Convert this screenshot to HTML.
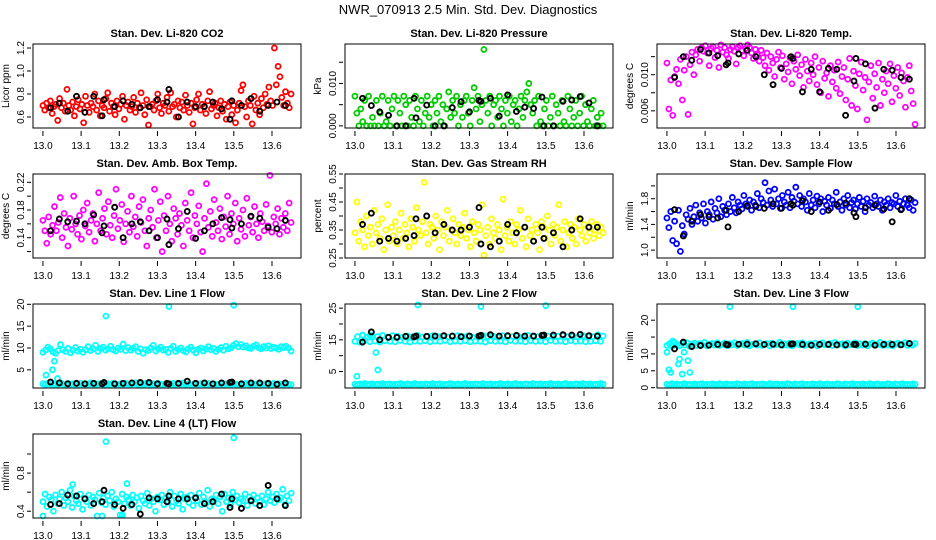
<!DOCTYPE html>
<html><head><meta charset="utf-8"><style>
html,body{margin:0;padding:0;background:#fff}
svg{display:block}
text{font-family:"Liberation Sans",sans-serif}
</style></head><body>
<svg id="chart" width="936" height="540" viewBox="0 0 936 540" xmlns="http://www.w3.org/2000/svg">
<rect width="936" height="540" fill="#fff"/>
<text x="468" y="14" text-anchor="middle" font-size="13">NWR_070913  2.5 Min. Std. Dev. Diagnostics</text>
</svg>
<script>
const xTicks=[13.0,13.1,13.2,13.3,13.4,13.5,13.6];
const xTickLabels=["13.0","13.1","13.2","13.3","13.4","13.5","13.6"];
const blackTimes=[13.020,13.043,13.065,13.088,13.110,13.133,13.155,13.160,13.188,13.210,13.233,13.255,13.278,13.300,13.325,13.330,13.355,13.378,13.400,13.423,13.445,13.468,13.490,13.495,13.520,13.545,13.568,13.590,13.613,13.635];

const co2Vals=[0.70,0.66,0.72,0.68,0.74,0.63,0.69,0.71,0.57,0.76,0.68,0.72,0.65,0.84,0.70,0.66,0.73,0.61,0.69,0.75,0.67,0.71,0.55,0.78,0.70,0.64,0.72,0.69,0.80,0.66,0.74,0.61,0.70,0.68,0.76,0.81,0.65,0.72,0.69,0.62,0.74,0.67,0.71,0.78,0.58,0.70,0.73,0.66,0.69,0.77,0.64,0.72,0.68,0.81,0.70,0.62,0.75,0.53,0.69,0.71,0.66,0.74,0.80,0.68,0.63,0.72,0.70,0.77,0.65,0.81,0.69,0.71,0.60,0.74,0.68,0.73,0.66,0.79,0.70,0.64,0.72,0.54,0.68,0.75,0.80,0.66,0.71,0.69,0.63,0.74,0.82,0.67,0.70,0.72,0.61,0.68,0.74,0.65,0.71,0.58,0.69,0.73,0.62,0.70,0.55,0.66,0.72,0.83,0.88,0.69,0.60,0.74,0.70,0.54,0.78,0.66,0.72,0.62,0.76,0.68,0.80,0.71,0.86,0.74,0.70,1.20,0.88,1.04,0.95,0.77,0.70,0.82,0.72,0.68,0.80];
const co2Black=[0.68,0.72,0.65,0.78,0.64,0.78,0.61,0.75,0.69,0.74,0.71,0.68,0.69,0.75,0.73,0.84,0.60,0.73,0.69,0.69,0.73,0.67,0.58,0.74,0.70,0.76,0.65,0.70,0.73,0.70];

const presVals=[0.007,0.003,0.000,0.004,0.001,0.006,0.000,0.007,0.000,0.002,0.000,0.006,0.000,0.003,0.007,0.000,0.001,0.006,0.000,0.004,0.007,0.000,0.006,0.003,0.000,0.007,0.005,0.000,0.006,0.002,0.000,0.007,0.004,0.001,0.006,0.000,0.003,0.007,0.002,0.005,0.000,0.006,0.003,0.007,0.001,0.005,0.000,0.004,0.008,0.002,0.006,0.003,0.007,0.000,0.005,0.002,0.006,0.007,0.003,0.000,0.006,0.009,0.004,0.007,0.001,0.005,0.018,0.006,0.003,0.007,0.000,0.005,0.006,0.002,0.007,0.004,0.000,0.006,0.003,0.007,0.001,0.005,0.006,0.000,0.004,0.007,0.002,0.006,0.008,0.010,0.005,0.003,0.006,0.000,0.007,0.001,0.000,0.004,0.006,0.000,0.002,0.007,0.000,0.005,0.003,0.000,0.006,0.001,0.000,0.007,0.004,0.000,0.002,0.006,0.000,0.003,0.007,0.000,0.005,0.001,0.000,0.004,0.006,0.000,0.002,0.000,0.003,0.000];
const presBlack=[0.0065,0.0048,0.0033,0.0025,0.0000,0.0000,0.0065,0.0019,0.0049,0.0000,0.0000,0.0043,0.0057,0.0033,0.0060,0.0058,0.0065,0.0023,0.0073,0.0034,0.0044,0.0041,0.0068,0.0000,0.0000,0.0058,0.0061,0.0069,0.0054,0.0000];

const tempVals=[0.0113,0.0062,0.0094,0.0055,0.0098,0.0106,0.0090,0.0117,0.0072,0.0105,0.0120,0.0056,0.0111,0.0125,0.0100,0.0122,0.0128,0.0115,0.0130,0.0126,0.0132,0.0124,0.0110,0.0129,0.0131,0.0119,0.0127,0.0108,0.0133,0.0125,0.0130,0.0122,0.0118,0.0128,0.0131,0.0126,0.0112,0.0130,0.0132,0.0127,0.0121,0.0129,0.0133,0.0130,0.0124,0.0118,0.0128,0.0122,0.0115,0.0127,0.0119,0.0110,0.0124,0.0105,0.0120,0.0113,0.0098,0.0117,0.0125,0.0108,0.0121,0.0095,0.0112,0.0103,0.0119,0.0090,0.0115,0.0106,0.0122,0.0099,0.0111,0.0086,0.0117,0.0104,0.0093,0.0113,0.0100,0.0120,0.0089,0.0108,0.0080,0.0115,0.0096,0.0102,0.0076,0.0110,0.0092,0.0105,0.0085,0.0114,0.0079,0.0098,0.0108,0.0072,0.0095,0.0118,0.0066,0.0104,0.0088,0.0062,0.0101,0.0114,0.0083,0.0097,0.0050,0.0092,0.0110,0.0074,0.0101,0.0086,0.0113,0.0066,0.0095,0.0080,0.0104,0.0090,0.0112,0.0070,0.0099,0.0085,0.0108,0.0077,0.0102,0.0093,0.0064,0.0097,0.0110,0.0082,0.0068,0.0045];
const tempBlack=[0.0097,0.0120,0.0116,0.0128,0.0124,0.0121,0.0111,0.0113,0.0123,0.0127,0.0120,0.0100,0.0089,0.0107,0.0120,0.0118,0.0081,0.0106,0.0081,0.0107,0.0106,0.0055,0.0093,0.0118,0.0112,0.0063,0.0106,0.0105,0.0097,0.0095];

const ambVals=[0.165,0.150,0.132,0.170,0.145,0.158,0.185,0.150,0.162,0.198,0.140,0.175,0.155,0.128,0.168,0.152,0.200,0.160,0.145,0.172,0.138,0.180,0.157,0.190,0.148,0.165,0.175,0.135,0.160,0.205,0.150,0.168,0.182,0.145,0.192,0.158,0.140,0.172,0.210,0.153,0.165,0.188,0.134,0.160,0.178,0.148,0.200,0.156,0.170,0.142,0.185,0.162,0.195,0.150,0.128,0.168,0.180,0.155,0.210,0.140,0.165,0.192,0.120,0.172,0.150,0.200,0.160,0.135,0.182,0.168,0.145,0.175,0.158,0.128,0.190,0.165,0.150,0.205,0.140,0.172,0.160,0.186,0.148,0.120,0.168,0.218,0.155,0.178,0.142,0.195,0.162,0.150,0.182,0.138,0.170,0.156,0.200,0.145,0.175,0.160,0.190,0.135,0.168,0.152,0.180,0.142,0.197,0.158,0.170,0.148,0.185,0.160,0.140,0.175,0.163,0.150,0.188,0.157,0.230,0.148,0.170,0.160,0.182,0.145,0.168,0.155,0.175,0.150,0.190,0.162];
const ambBlack=[0.150,0.167,0.163,0.164,0.160,0.173,0.147,0.157,0.184,0.140,0.160,0.163,0.150,0.140,0.167,0.130,0.153,0.178,0.139,0.150,0.160,0.169,0.166,0.154,0.160,0.171,0.168,0.155,0.153,0.165];

const rhVals=[0.34,0.45,0.31,0.38,0.35,0.29,0.40,0.33,0.36,0.30,0.42,0.34,0.37,0.32,0.39,0.28,0.35,0.44,0.31,0.36,0.33,0.38,0.30,0.35,0.41,0.32,0.37,0.34,0.29,0.39,0.36,0.31,0.43,0.35,0.33,0.38,0.52,0.34,0.30,0.37,0.36,0.32,0.40,0.35,0.28,0.38,0.33,0.36,0.42,0.31,0.35,0.39,0.34,0.30,0.37,0.33,0.36,0.41,0.32,0.35,0.29,0.38,0.34,0.31,0.37,0.35,0.44,0.26,0.33,0.36,0.30,0.39,0.34,0.32,0.37,0.35,0.28,0.46,0.33,0.36,0.31,0.38,0.34,0.30,0.37,0.35,0.42,0.32,0.36,0.29,0.39,0.33,0.35,0.31,0.37,0.34,0.28,0.38,0.36,0.32,0.40,0.35,0.30,0.37,0.33,0.36,0.44,0.31,0.35,0.38,0.29,0.34,0.37,0.32,0.36,0.30,0.39,0.35,0.33,0.37,0.31,0.36,0.34,0.38,0.32,0.35,0.37,0.33,0.36,0.34];
const rhBlack=[0.37,0.41,0.31,0.32,0.31,0.32,0.33,0.39,0.40,0.34,0.37,0.35,0.35,0.36,0.43,0.30,0.29,0.31,0.37,0.34,0.36,0.31,0.36,0.32,0.34,0.29,0.35,0.39,0.36,0.36];

const flowVals=[1.50,1.35,1.60,1.15,1.45,1.10,1.62,0.98,1.38,1.25,1.55,1.48,1.65,1.40,1.52,1.70,1.45,1.58,1.50,1.72,1.42,1.60,1.55,1.75,1.48,1.65,1.58,1.80,1.52,1.68,1.62,1.55,1.72,1.60,1.82,1.66,1.58,1.75,1.70,1.64,1.85,1.72,1.68,1.78,1.62,1.75,1.70,1.88,1.66,1.80,1.74,2.05,1.70,1.92,1.78,1.68,1.95,1.72,1.80,1.65,1.85,1.75,1.70,1.90,1.66,1.82,1.76,1.98,1.72,1.85,1.68,1.80,1.75,1.62,1.88,1.70,1.78,1.66,1.84,1.72,1.80,1.60,1.76,1.70,1.82,1.65,1.78,1.72,1.90,1.68,1.75,1.62,1.80,1.70,1.85,1.66,1.74,1.78,1.64,1.72,1.82,1.68,1.76,1.60,1.80,1.70,1.74,1.66,1.84,1.72,1.68,1.78,1.62,1.75,1.70,1.80,1.66,1.74,1.72,1.85,1.68,1.76,1.64,1.72,1.80,1.70,1.66,1.78,1.62,1.74];
const flowBlack=[1.63,1.22,1.45,1.55,1.52,1.50,1.62,1.36,1.60,1.69,1.68,1.65,1.72,1.65,1.72,1.70,1.77,1.60,1.75,1.62,1.71,1.73,1.58,1.52,1.66,1.70,1.64,1.44,1.63,1.80];

const l1High=[9.0,9.5,10.2,9.8,9.1,8.8,9.4,10.8,9.6,9.2,9.9,8.9,9.5,10.1,9.3,9.7,9.0,9.6,10.3,9.4,9.8,10.6,9.2,9.9,10.2,9.5,9.8,10.4,9.6,9.3,10.0,9.7,10.9,9.4,10.1,9.5,9.9,10.3,9.2,9.8,8.8,9.6,9.4,10.0,10.6,9.3,9.8,10.2,9.5,9.7,9.0,9.9,10.4,9.2,9.6,10.0,9.4,9.1,9.8,10.2,9.5,8.9,9.7,10.0,9.3,9.8,10.3,9.6,9.9,9.2,9.7,10.1,9.5,10.4,9.8,10.0,10.6,11.0,10.3,10.8,10.2,10.5,10.0,9.9,10.4,10.7,10.1,9.8,10.3,10.0,10.5,9.9,10.2,10.0,9.7,10.3,10.1,10.4,10.0,9.3];
const l1Low=[1.8,1.6,1.9,1.7,1.5,1.8,1.6,2.0,1.7,1.5,1.9,1.6,1.8,1.7,1.5,1.9,1.6,1.8,1.7,2.0,1.5,1.8,1.6,1.9,1.7,1.5,1.8,1.6,1.9,1.7,1.6,1.8,1.5,1.9,1.7,1.6,1.8,2.0,1.6,1.7,1.5,1.9,1.7,1.6,1.8,1.5,1.9,1.7,1.6,1.8,1.7,1.5,1.9,1.6,1.8,1.7,2.0,1.6,1.8,1.5,1.7,1.9,1.6,1.8,1.7,1.5,1.9,1.6,1.8,1.7,1.6,1.9,1.5,1.8,1.7,1.6,1.9,1.7,1.5,1.8,1.6,1.9,1.7,1.6,1.8,1.5,1.9,1.7,1.6,1.8,1.7,1.5,1.9,1.6,1.8,1.7,1.6,1.8,1.7,1.6];
const l1Black=[2.2,2.0,1.8,1.9,1.8,1.9,1.8,2.1,1.8,1.9,2.0,2.1,2.1,1.8,1.9,1.8,1.9,2.4,1.9,2.0,1.8,2.0,2.1,2.2,1.8,2.0,2.0,1.9,1.7,2.0];
const l1OutT=[13.008,13.025,13.030,13.038,13.165,13.330,13.500];
const l1OutY=[3.8,5.0,7.0,3.0,17.3,19.5,19.8];

const l2High=[14.5,16.0,14.2,16.5,14.8,15.8,14.4,16.2,14.6,16.0,14.3,16.4,14.7,15.9,14.5,16.3,14.4,16.1,14.8,15.8,14.5,16.2,14.3,16.0,14.6,16.4,14.5,15.9,14.7,16.1,14.4,16.3,14.6,16.0,14.5,16.2,14.8,15.9,14.4,16.1,14.6,16.3,14.5,16.0,14.7,16.2,14.4,15.8,14.6,16.1,14.5,16.4,14.3,16.0,14.7,16.2,14.5,15.9,14.6,16.3,14.4,16.1,14.8,16.0,14.5,16.2,14.6,15.9,14.4,16.4,14.7,16.1,14.5,16.0,14.6,16.3,14.4,16.2,14.8,15.9,14.5,16.1,14.6,16.4,14.4,16.0,14.7,16.2,14.5,15.9,14.6,16.3,14.4,16.1,14.5,16.0,14.7,16.6,14.5,16.2];
const l2Low=[1.0,0.8,1.1,0.9,1.2,0.8,1.0,1.1,0.9,1.0,0.8,1.2,0.9,1.0,1.1,0.8,1.0,0.9,1.2,1.0,0.8,1.1,0.9,1.0,1.2,0.8,1.0,0.9,1.1,1.0,0.8,1.2,0.9,1.0,1.1,0.8,1.0,0.9,1.2,1.0,0.8,1.1,0.9,1.0,1.2,0.8,1.0,0.9,1.1,1.0,0.8,1.2,0.9,1.0,1.1,0.8,1.0,0.9,1.2,1.0,0.8,1.1,0.9,1.0,1.2,0.8,1.0,0.9,1.1,1.0,0.8,1.2,0.9,1.0,1.1,0.8,1.0,0.9,1.2,1.0,0.8,1.1,0.9,1.0,1.2,0.8,1.0,0.9,1.1,1.0,0.8,1.2,0.9,1.0,1.1,0.8,1.0,0.9,1.2,1.0];
const l2Black=[14.3,17.5,15.0,15.8,15.8,16.1,15.9,16.2,16.1,16.2,16.3,16.2,16.0,16.2,16.2,16.4,16.6,16.2,16.3,16.4,16.2,16.2,16.4,16.5,16.5,16.6,16.5,16.7,16.3,16.2];
const l2OutT=[13.005,13.040,13.055,13.060,13.165,13.330,13.500];
const l2OutY=[3.5,16.5,11.0,5.5,26.0,25.5,25.8];

const l3High=[12.5,13.0,12.2,13.4,12.8,12.4,13.1,12.6,13.3,12.3,12.9,13.2,12.5,13.0,12.7,13.4,12.4,12.9,13.1,12.6,13.3,12.5,12.8,13.2,12.4,13.0,12.7,13.3,12.5,12.9,13.1,12.6,13.4,12.4,12.8,13.0,12.6,13.3,12.5,12.9,13.1,12.4,13.2,12.7,12.8,13.4,12.5,13.0,12.6,13.2,12.4,12.9,13.1,12.7,13.3,12.5,12.8,13.0,12.6,13.2,12.4,12.9,13.3,12.7,12.8,13.1,12.5,13.4,12.6,12.9,13.0,12.4,13.2,12.7,12.8,13.3,12.5,13.0,12.6,13.1,12.4,12.9,13.2,12.7,12.8,13.4,12.5,13.0,12.6,13.1,12.4,12.9,13.2,12.7,12.8,13.3,12.5,13.0,12.6,13.1];
const l3Low=[1.0,0.8,1.2,0.9,1.1,0.8,1.0,1.2,0.9,1.0,0.8,1.1,0.9,1.0,1.2,0.8,1.0,0.9,1.1,1.0,0.8,1.2,0.9,1.0,1.1,0.8,1.0,0.9,1.2,1.0,0.8,1.1,0.9,1.0,1.2,0.8,1.0,0.9,1.1,1.0,0.8,1.2,0.9,1.0,1.1,0.8,1.0,0.9,1.2,1.0,0.8,1.1,0.9,1.0,1.2,0.8,1.0,0.9,1.1,1.0,0.8,1.2,0.9,1.0,1.1,0.8,1.0,0.9,1.2,1.0,0.8,1.1,0.9,1.0,1.2,0.8,1.0,0.9,1.1,1.0,0.8,1.2,0.9,1.0,1.1,0.8,1.0,0.9,1.2,1.0,0.8,1.1,0.9,1.0,1.2,0.8,1.0,0.9,1.1,1.0];
const l3Black=[11.5,13.5,12.2,12.5,12.6,12.8,12.8,12.7,12.9,12.9,13.0,12.8,12.9,12.7,12.9,13.0,12.8,12.6,12.8,12.8,12.7,12.7,12.8,12.8,12.9,12.6,12.8,12.8,12.7,13.1];
const l3OutT=[13.000,13.005,13.010,13.015,13.030,13.033,13.040,13.045,13.055,13.060,13.165,13.330,13.500];
const l3OutY=[10.5,5.3,4.5,13.8,7.0,8.5,4.0,10.5,8.0,4.5,24.0,24.0,24.0];

const l4Vals=[0.50,0.58,0.45,0.55,0.52,0.40,0.57,0.48,0.53,0.60,0.46,0.54,0.50,0.62,0.44,0.56,0.51,0.48,0.58,0.42,0.53,0.50,0.57,0.46,0.55,0.52,0.35,0.59,0.49,0.54,0.47,0.56,0.51,0.60,0.45,0.53,0.50,0.36,0.58,0.48,0.55,0.52,0.46,0.57,0.50,0.54,0.43,0.56,0.51,0.48,0.59,0.46,0.53,0.50,0.40,0.55,0.52,0.57,0.47,0.54,0.50,0.60,0.45,0.56,0.51,0.48,0.58,0.42,0.53,0.55,0.49,0.57,0.46,0.54,0.51,0.59,0.47,0.55,0.50,0.62,0.45,0.53,0.52,0.57,0.48,0.55,0.40,0.58,0.50,0.54,0.47,0.60,0.52,0.56,0.49,0.53,0.51,0.58,0.46,0.55,0.52,0.57,0.48,0.54,0.50,0.56,0.47,0.53,0.60,0.51,0.55,0.49,0.58,0.52,0.54,0.63,0.47,0.56,0.51,0.59];
const l4Black=[0.47,0.48,0.57,0.56,0.53,0.48,0.50,0.62,0.47,0.43,0.47,0.37,0.54,0.53,0.50,0.56,0.53,0.53,0.54,0.48,0.50,0.58,0.44,0.53,0.43,0.51,0.46,0.67,0.53,0.46];
const l4OutT=[13.000,13.078,13.155,13.165,13.208,13.220,13.500];
const l4OutY=[0.35,0.68,0.35,1.13,0.36,0.69,1.17];

const NS="http://www.w3.org/2000/svg";
const svg=document.getElementById('chart');
function mk(tag,attrs,parent){const e=document.createElementNS(NS,tag);for(const k in attrs)e.setAttribute(k,attrs[k]);(parent||svg).appendChild(e);return e;}

const panels=[
 {name:'co2',title:'Stan. Dev. Li-820 CO2',ylab:'Licor ppm',col:0,row:0,ylo:0.504,yhi:1.235,ticks:[0.6,0.8,1.0,1.2],labels:['0.6','0.8','1.0','1.2'],color:'#ff0000',series:[co2Vals],black:co2Black},
 {name:'pressure',title:'Stan. Dev. Li-820 Pressure',ylab:'kPa',col:1,row:0,ylo:-0.0005,yhi:0.0193,ticks:[0,0.005,0.010,0.015],labels:['0.000','','0.010',''],color:'#00cc00',series:[presVals],black:presBlack},
 {name:'temp',title:'Stan. Dev. Li-820 Temp.',ylab:'degrees C',col:2,row:0,ylo:0.0041,yhi:0.0134,ticks:[0.006,0.008,0.010,0.012],labels:['0.006','','0.010',''],color:'#ff00ff',series:[tempVals],black:tempBlack},
 {name:'amb-box-temp',title:'Stan. Dev. Amb. Box Temp.',ylab:'degrees C',col:0,row:1,ylo:0.1107,yhi:0.232,ticks:[0.12,0.14,0.16,0.18,0.20,0.22],labels:['','0.14','','0.18','','0.22'],color:'#ff00ff',series:[ambVals],black:ambBlack},
 {name:'gas-rh',title:'Stan. Dev. Gas Stream RH',ylab:'percent',col:1,row:1,ylo:0.25,yhi:0.55,ticks:[0.25,0.30,0.35,0.40,0.45,0.50,0.55],labels:['0.25','','0.35','','0.45','','0.55'],color:'#ffff00',series:[rhVals],black:rhBlack},
 {name:'sample-flow',title:'Stan. Dev. Sample Flow',ylab:'ml/min',col:2,row:1,ylo:0.877,yhi:2.185,ticks:[1.0,1.2,1.4,1.6,1.8,2.0],labels:['1.0','','1.4','','1.8',''],color:'#0000ff',series:[flowVals],black:flowBlack},
 {name:'line1-flow',title:'Stan. Dev. Line 1 Flow',ylab:'ml/min',col:0,row:2,ylo:0.84,yhi:20.07,ticks:[5,10,15,20],labels:['5','10','15','20'],color:'#00ffff',series:[l1High,l1Low],black:l1Black,outT:l1OutT,outY:l1OutY},
 {name:'line2-flow',title:'Stan. Dev. Line 2 Flow',ylab:'ml/min',col:1,row:2,ylo:-0.2,yhi:26.3,ticks:[5,10,15,20,25],labels:['5','','15','','25'],color:'#00ffff',series:[l2High,l2Low],black:l2Black,outT:l2OutT,outY:l2OutY},
 {name:'line3-flow',title:'Stan. Dev. Line 3 Flow',ylab:'ml/min',col:2,row:2,ylo:-0.1,yhi:24.8,ticks:[0,5,10,15,20],labels:['0','5','10','','20'],color:'#00ffff',series:[l3High,l3Low],black:l3Black,outT:l3OutT,outY:l3OutY},
 {name:'line4-flow',title:'Stan. Dev. Line 4 (LT) Flow',ylab:'ml/min',col:0,row:3,ylo:0.329,yhi:1.21,ticks:[0.4,0.6,0.8,1.0],labels:['0.4','','0.8',''],color:'#00ffff',series:[l4Vals],black:l4Black,outT:l4OutT,outY:l4OutY}
];
const T0=13.0,T1=13.65;

panels.forEach(p=>{
  const L=33+p.col*312, W=268, Tp=44+p.row*130, H=84;
  const xs=v=>L+(v-12.974)/(13.676-12.974)*W;
  const ys=v=>Tp+H-(v-p.ylo)/(p.yhi-p.ylo)*H;
  const g=mk('g',{});
  
  
  const t=mk('text',{x:L+W/2,y:Tp-7,'text-anchor':'middle','font-size':'11','font-weight':'bold'},g);
  t.textContent=p.title;
  
  
  const yl=mk('text',{x:0,y:0,'text-anchor':'middle','font-size':'10',transform:`translate(${L-24},${Tp+H/2}) rotate(-90)`},g);
  yl.textContent=p.ylab;
  
  
  p.ticks.forEach((v,i)=>{
    const y=ys(v);
    const tk=mk('line',{x1:L-6,x2:L-2,y1:y,y2:y,stroke:'#000','stroke-width':1},g);
    
    
    if(p.labels[i]){
      const lb=mk('text',{x:0,y:0,'text-anchor':'middle','font-size':'10',transform:`translate(${L-9},${y}) rotate(-90)`},g);
      lb.textContent=p.labels[i];
      
      
    }
  });
  xTicks.forEach((v,i)=>{
    const x=xs(v);
    const tk=mk('line',{x1:x,x2:x,y1:Tp+H+3,y2:Tp+H+8,stroke:'#000','stroke-width':1},g);
    
    
    const lb=mk('text',{x:x,y:Tp+H+21,'text-anchor':'middle','font-size':'10'},g);
    lb.textContent=xTickLabels[i];
    
    
  });
  const clip=mk('g',{},g);
  p.series.forEach(arr=>{
    const n=arr.length;
    arr.forEach((v,i)=>{
      const tv=T0+i*(T1-T0)/(n-1);
      const c=mk('circle',{cx:xs(tv),cy:ys(v),r:2.5,fill:'none',stroke:p.color,'stroke-width':1.8},clip);
      
      
    });
  });
  if(p.outT){
    p.outT.forEach((tv,i)=>{
      const c=mk('circle',{cx:xs(tv),cy:ys(p.outY[i]),r:2.5,fill:'none',stroke:p.color,'stroke-width':1.8},clip);
      
      
    });
  }
  p.black.forEach((v,i)=>{
    const c=mk('circle',{cx:xs(blackTimes[i]),cy:ys(v),r:2.5,fill:'none',stroke:'#000','stroke-width':1.9},clip);
    
    
  });
  const box=mk('rect',{x:L,y:Tp,width:W,height:H,fill:'none',stroke:'#000','stroke-width':1},g);
  
  
});
</script>
</body></html>
